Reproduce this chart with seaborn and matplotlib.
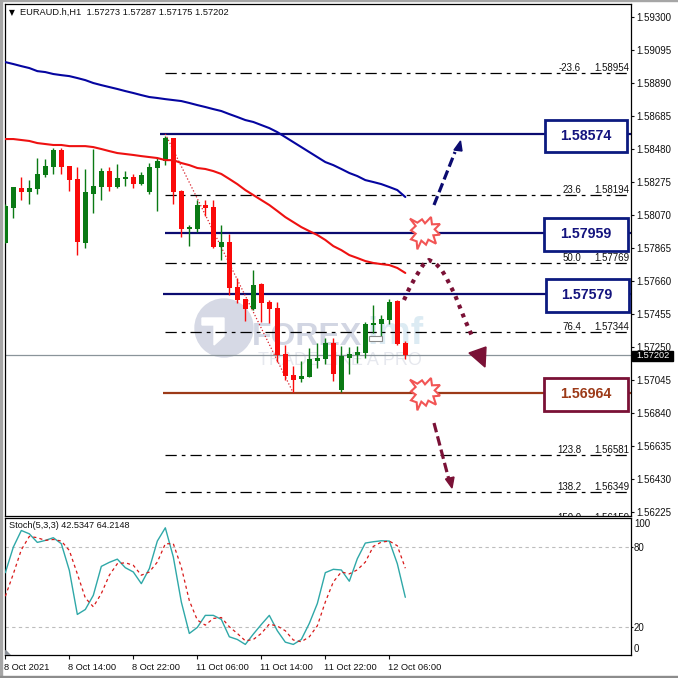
"""
EURAUD H1 chart with levels and stochastic
"""

import pandas as pd
import matplotlib.pyplot as plt
import matplotlib.transforms as mtrans
from matplotlib.patches import Rectangle, Polygon, Circle
import seaborn as sns

# Candles
opens = [1.57896, 1.58113, 1.58238, 1.58213, 1.58232, 1.58318, 1.58368, 1.58474, 1.58374, 1.58294,
         1.57896, 1.58200, 1.58244, 1.58343, 1.58244, 1.58294, 1.58306, 1.58262, 1.58213, 1.58362,
         1.58405, 1.58548, 1.58219, 1.57983, 1.57983, 1.58132, 1.58120, 1.57871, 1.57902, 1.57623,
         1.57548, 1.57486, 1.57641, 1.57529, 1.57492, 1.57207, 1.57076, 1.57051, 1.57064, 1.57163,
         1.57176, 1.57275, 1.56983, 1.57182, 1.57202, 1.57213, 1.57387, 1.57393, 1.57418, 1.57535,
         1.57273]
highs = [1.58138, 1.58244, 1.58306, 1.58287, 1.58424, 1.58418, 1.58486, 1.58486, 1.58374, 1.58368,
         1.58356, 1.58480, 1.58362, 1.58368, 1.58387, 1.58343, 1.58325, 1.58337, 1.58393, 1.58424,
         1.58561, 1.58548, 1.58225, 1.58008, 1.58163, 1.58163, 1.58163, 1.58008, 1.57952, 1.57678,
         1.57548, 1.57728, 1.57647, 1.57542, 1.57529, 1.57263, 1.57132, 1.57163, 1.57244, 1.57275,
         1.57306, 1.57306, 1.57256, 1.57250, 1.57256, 1.57405, 1.57511, 1.57449, 1.57548, 1.57542,
         1.57287]
lows = [1.57896, 1.58051, 1.58163, 1.58138, 1.58200, 1.58306, 1.58325, 1.58325, 1.58219, 1.57821,
        1.57865, 1.58082, 1.58163, 1.58219, 1.58238, 1.58250, 1.58238, 1.58256, 1.58200, 1.58095,
        1.58380, 1.58138, 1.57933, 1.57877, 1.57964, 1.58064, 1.57865, 1.57790, 1.57573, 1.57523,
        1.57412, 1.57480, 1.57405, 1.57399, 1.57157, 1.57045, 1.56971, 1.57033, 1.57064, 1.57120,
        1.57145, 1.57039, 1.56971, 1.57082, 1.57151, 1.57182, 1.57337, 1.57319, 1.57393, 1.57263,
        1.57175]
closes = [1.58126, 1.58244, 1.58213, 1.58238, 1.58325, 1.58374, 1.58474, 1.58368, 1.58287, 1.57902,
          1.58213, 1.58250, 1.58343, 1.58244, 1.58300, 1.58306, 1.58262, 1.58318, 1.58368, 1.58405,
          1.58548, 1.58213, 1.57983, 1.57995, 1.58132, 1.58113, 1.57871, 1.57902, 1.57617, 1.57542,
          1.57486, 1.57635, 1.57523, 1.57486, 1.57202, 1.57070, 1.57045, 1.57070, 1.57176, 1.57182,
          1.57275, 1.57082, 1.57194, 1.57207, 1.57219, 1.57393, 1.57399, 1.57424, 1.57529, 1.57269,
          1.57202]

# Moving averages
ma_blue = [1.59020, 1.59008, 1.58995, 1.58983, 1.58964, 1.58958, 1.58946, 1.58939, 1.58933, 1.58921,
           1.58908, 1.58890, 1.58877, 1.58865, 1.58853, 1.58840, 1.58828, 1.58815, 1.58803, 1.58797,
           1.58790, 1.58784, 1.58778, 1.58766, 1.58753, 1.58741, 1.58728, 1.58716, 1.58697, 1.58679,
           1.58660, 1.58648, 1.58629, 1.58610, 1.58585, 1.58554, 1.58523, 1.58492, 1.58461, 1.58430,
           1.58399, 1.58380, 1.58356, 1.58331, 1.58312, 1.58287, 1.58275, 1.58262, 1.58244, 1.58225,
           1.58182]
ma_red = [1.58542, 1.58542, 1.58536, 1.58530, 1.58517, 1.58511, 1.58505, 1.58505, 1.58498, 1.58498,
          1.58498, 1.58492, 1.58480, 1.58467, 1.58455, 1.58449, 1.58443, 1.58436, 1.58430, 1.58424,
          1.58411, 1.58411, 1.58393, 1.58380, 1.58362, 1.58356, 1.58343, 1.58325, 1.58294, 1.58262,
          1.58225, 1.58194, 1.58163, 1.58132, 1.58095, 1.58057, 1.58026, 1.57995, 1.57970, 1.57946,
          1.57915, 1.57877, 1.57852, 1.57821, 1.57803, 1.57784, 1.57772, 1.57765, 1.57759, 1.57741,
          1.57710]

# Stochastic
stoch_main = [60.9, 80.0, 92.4, 89.9, 83.5, 85.0, 87.0, 82.5, 62.6, 29.7,
              33.4, 44.0, 65.6, 68.6, 71.0, 64.6, 61.4, 52.7, 63.9, 84.5,
              94.4, 72.6, 39.0, 15.5, 20.0, 29.0, 29.0, 26.0, 13.0, 11.0,
              7.3, 15.0, 22.2, 29.0, 17.5, 9.0, 7.3, 11.0, 23.0, 37.8,
              60.9, 63.4, 62.9, 54.5, 71.3, 83.0, 84.0, 84.7, 84.5, 67.6,
              42.5]
stoch_signal = [43.3, 60.0, 78.0, 88.0, 87.0, 85.0, 85.7, 84.5, 77.5, 60.0,
                42.0, 35.4, 45.3, 59.0, 67.6, 68.3, 66.4, 59.0, 61.4, 68.8,
                82.5, 82.5, 65.0, 40.0, 25.5, 21.7, 26.7, 27.4, 20.5, 15.5,
                10.0, 11.0, 15.5, 22.5, 21.0, 17.5, 10.6, 9.3, 13.0, 21.2,
                39.0, 54.0, 61.4, 60.0, 63.0, 68.8, 80.5, 83.7, 84.5, 81.0,
                64.2]

# Axis labels
price_ticks = [1.59300, 1.59095, 1.58890, 1.58685, 1.58480, 1.58275, 1.58070, 1.57865,
               1.57660, 1.57455, 1.57250, 1.57045, 1.56840, 1.56635, 1.56430, 1.56225]
time_ticks = [0, 8, 16, 24, 32, 40, 48]
time_labels = ["8 Oct 2021", "8 Oct 14:00", "8 Oct 22:00", "11 Oct 06:00",
               "11 Oct 14:00", "11 Oct 22:00", "12 Oct 06:00"]

# Levels
fib_names = ["-23.6", "23.6", "50.0", "76.4", "123.8", "138.2", "150.0"]
fib_prices = [1.58954, 1.58194, 1.57769, 1.57344, 1.56581, 1.56349, 1.56159]
level_prices = [1.58574, 1.57959, 1.57579, 1.56964]
last_price = 1.57202

NAVY = '#0b0b70'
MAROON = '#7a1136'
BROWN = '#9c3a18'
GREEN = '#0a7a14'
RED = '#fa0a0a'

sns.set_theme(style="white")
plt.rcParams['font.family'] = ['Liberation Sans', 'DejaVu Sans']

df = pd.DataFrame({'open': opens, 'high': highs, 'low': lows, 'close': closes,
                   'ma_blue': ma_blue, 'ma_red': ma_red,
                   'stoch': stoch_main, 'signal': stoch_signal})
df['hour'] = range(len(df))
df['up'] = df['close'] >= df['open']

fig = plt.figure(figsize=(6.78, 6.78), dpi=100, facecolor='white')
ax = fig.add_axes([4.5 / 678, 1 - 516 / 678, 626 / 678, 512 / 678])
ax2 = fig.add_axes([4.5 / 678, 1 - 655 / 678, 626 / 678, 137.5 / 678])
px = mtrans.Affine2D().scale(1 / 678, -1 / 678).translate(0, 1) + fig.transFigure
x_px = mtrans.blended_transform_factory(px, ax.transData)

for a in (ax, ax2):
    a.set_xlim(-0.104, 78.15)
    a.set_facecolor('white')
    for s in a.spines.values():
        s.set_color('black')
        s.set_linewidth(0.9)

# Watermark
ax.add_patch(Circle((224, 328), 29, transform=px, color='#d6d9e5', zorder=0.2, clip_on=False))
ax.add_patch(Polygon([(202, 318), (224, 318), (224, 336), (214, 345), (214, 325), (202, 325)],
                     transform=px, color='white', zorder=0.3))
ax.text(252, 345, "FOREX", transform=px, fontsize=23, fontweight='bold', color='#d2d6e3', zorder=0.4)
ax.text(367, 344, "imf", transform=px, fontsize=27, fontweight='bold', color='#dcebf3', zorder=0.4)
ax.text(258, 365, "TRADE LIKE A PRO", transform=px, fontsize=13, color='#e6e8ee', zorder=0.4)

# Fibonacci levels
ax.hlines(last_price, -0.104, 78.15, color='#8a949a', lw=0.9, zorder=1)
ax.hlines(fib_prices, 20, 78.15, color='black', lw=0.9, linestyles=[(0, (9, 4, 3, 4))], zorder=1.2)
for name, price in zip(fib_names, fib_prices):
    ax.text(581, price, name, transform=x_px, ha='right', va='bottom', fontsize=7, color='#111111', clip_on=True)
    ax.text(629, price, f"{price:.5f}", transform=x_px, ha='right', va='bottom', fontsize=7, color='#111111', clip_on=True)

# Horizontal levels
level_starts = [19.3, 19.9, 19.7, 19.7]
for i, price in enumerate(level_prices):
    col = BROWN if price == level_prices[-1] else NAVY
    ax.hlines(price, level_starts[i], 78.15, color=col, lw=1.6, zorder=1.5)

# Fib trend line
ax.plot([20, 36], [level_prices[0], level_prices[-1]], color='#d8202a', lw=0.9, ls=':', zorder=2.8)

# Candles
cols = [GREEN if u else RED for u in df['up']]
ax.vlines(df['hour'], df['low'], df['high'], colors=cols, lw=1.0, zorder=3)
ax.bar(df['hour'], (df['close'] - df['open']).abs(), bottom=df[['open', 'close']].min(axis=1),
       width=0.62, color=cols, linewidth=0, zorder=3.1)
ax.add_patch(Rectangle((369, 336), 12.5, 4.5, transform=px, facecolor='white', edgecolor='#8a8a8a', lw=0.8, zorder=3.2))

# Moving averages
sns.lineplot(data=df, x='hour', y='ma_blue', ax=ax, color='#0505a0', lw=1.5, zorder=4)
sns.lineplot(data=df, x='hour', y='ma_red', ax=ax, color='#ee1111', lw=1.5, zorder=4)
ax.set_xlabel("")
ax.set_ylabel("")
ax.set_ylim(1.56200, 1.59381)
ax.set_xticks([])
ax.yaxis.tick_right()
ax.set_yticks(price_ticks)
ax.set_yticklabels([f"{p:.5f}" for p in price_ticks])
ax.tick_params(axis='y', which='both', right=True, length=2.2, width=0.8, pad=2, labelsize=7, colors='#111111')

# Price tag
ax.add_patch(Rectangle((632, 351), 41, 10, transform=px, color='black', zorder=9, clip_on=False))
ax.text(652.5, 356, f"{last_price:.5f}", transform=px, color='white', fontsize=6.6, ha='center', va='center',
        zorder=10, clip_on=False)

# Header
ax.text(12, 12.5, "\u25bc", transform=px, fontsize=5.5, ha='center', va='center', family=['DejaVu Sans'], color='black')
ax.text(20, 12.5, "EURAUD.h,H1  1.57273 1.57287 1.57175 1.57202", transform=px, fontsize=6.7, va='center', color='#111111')

# Level boxes
boxes = [(545, 120, 82, 32), (544, 218, 84, 33), (545.5, 278.5, 83.5, 33.5), (544, 378, 84, 33)]
for i, (bx, by, bw, bh) in enumerate(boxes):
    edge, txt = (MAROON, BROWN) if i == 3 else ('#0c1a80', '#14147e')
    ax.add_patch(Rectangle((bx, by), bw, bh, transform=px, facecolor='white', edgecolor=edge, lw=2.0, zorder=7))
    ax.text(bx + bw / 2, by + bh / 2, f"{level_prices[i]:.5f}", transform=px, ha='center', va='center',
            fontsize=10.2, fontweight='bold', color=txt, zorder=8)

# Arrows
ax.plot([434, 455], [205, 152], transform=px, color=NAVY, lw=2.3, dashes=(3, 1.3), zorder=6)
ax.add_patch(Polygon([(460.5, 141), (454, 150), (462, 151)], transform=px, color=NAVY, zorder=6))
ax.plot([434, 449], [423, 480], transform=px, color=MAROON, lw=2.3, dashes=(3, 1.3), zorder=6)
ax.add_patch(Polygon([(452, 488), (445.5, 479), (454, 477)], transform=px, color=MAROON, zorder=6))
curve_x = [404, 409, 415, 423, 429, 435, 441, 446, 450, 455, 459, 465, 472]
curve_y = [300, 289, 278, 265, 260, 263, 269, 277, 285, 295, 305, 320, 336]
ax.plot(curve_x, curve_y, transform=px, color=MAROON, lw=3.0, dashes=(0.95, 1.3), zorder=6, clip_on=False)
ax.add_patch(Polygon([(469, 353), (486, 347), (485, 367)], transform=px, color=MAROON, zorder=6))

# Explosion marks
star_x = [30, 52, 66, 75, 93, 96, 120, 104, 120, 100, 108, 85, 78, 64, 52, 50, 33, 47, 33, 47]
star_y = [30, 42, 32, 44, 25, 47, 46, 62, 78, 80, 105, 93, 108, 96, 122, 98, 92, 75, 65, 52]
for cx, cy in [(425, 232), (425, 393)]:
    pts = [(cx + (sx - 75) / 3, cy + (sy - 70) / 3) for sx, sy in zip(star_x, star_y)]
    ax.add_patch(Polygon(pts, transform=px, facecolor='white', edgecolor='#f25555', lw=1.5, zorder=6))

# Stochastic panel
ax2.hlines([80, 20], -0.104, 78.15, color='#bdbdbd', lw=0.8, linestyles=[(0, (3, 3))], zorder=1)
sns.lineplot(data=df, x='hour', y='stoch', ax=ax2, color='#2fa8a8', lw=1.0, zorder=3)
sns.lineplot(data=df, x='hour', y='signal', ax=ax2, color='#d81818', lw=0.9, zorder=3, ls=(0, (2.5, 2.5)))
ax2.set_ylim(-0.6, 102.1)
ax2.set_xlabel("")
ax2.set_ylabel("")
ax2.yaxis.tick_right()
ax2.set_yticks([80, 20])
ax2.set_yticklabels(["80", "20"])
ax2.tick_params(axis='y', right=True, length=1.5, width=0.8, pad=0.5, labelsize=7, colors='#111111')
ax2.set_xticks(time_ticks)
ax2.set_xticklabels(time_labels, ha='left')
ax2.tick_params(axis='x', bottom=True, length=3, width=0.8, pad=2.5, labelsize=6.7, colors='#111111')
offset = mtrans.ScaledTranslation(-1.5 / 100, 0, fig.dpi_scale_trans)
for lab in ax2.get_xticklabels():
    lab.set_transform(lab.get_transform() + offset)
ax2.text(634, 524, "100", transform=px, fontsize=7, va='center', color='#111111', clip_on=False)
ax2.text(634, 648.7, "0", transform=px, fontsize=7, va='center', color='#111111', clip_on=False)
ax2.text(9, 526, "Stoch(5,3,3) 42.5347 64.2148", transform=px, fontsize=6.6, va='center', color='#111111')
ax2.add_patch(Polygon([(5, 650), (5, 655), (10, 655)], transform=px, color='#8a8f96', zorder=5))

# Window frame
fig.patches.extend([
    Rectangle((0, 0), 2, 678, transform=px, color='#a6a6a6'),
    Rectangle((0, 0), 678, 1, transform=px, color='#a6a6a6'),
    Rectangle((0, 676), 678, 2, transform=px, color='#8c8c8c'),
])

plt.savefig("out.png", dpi=100)
plt.close()
